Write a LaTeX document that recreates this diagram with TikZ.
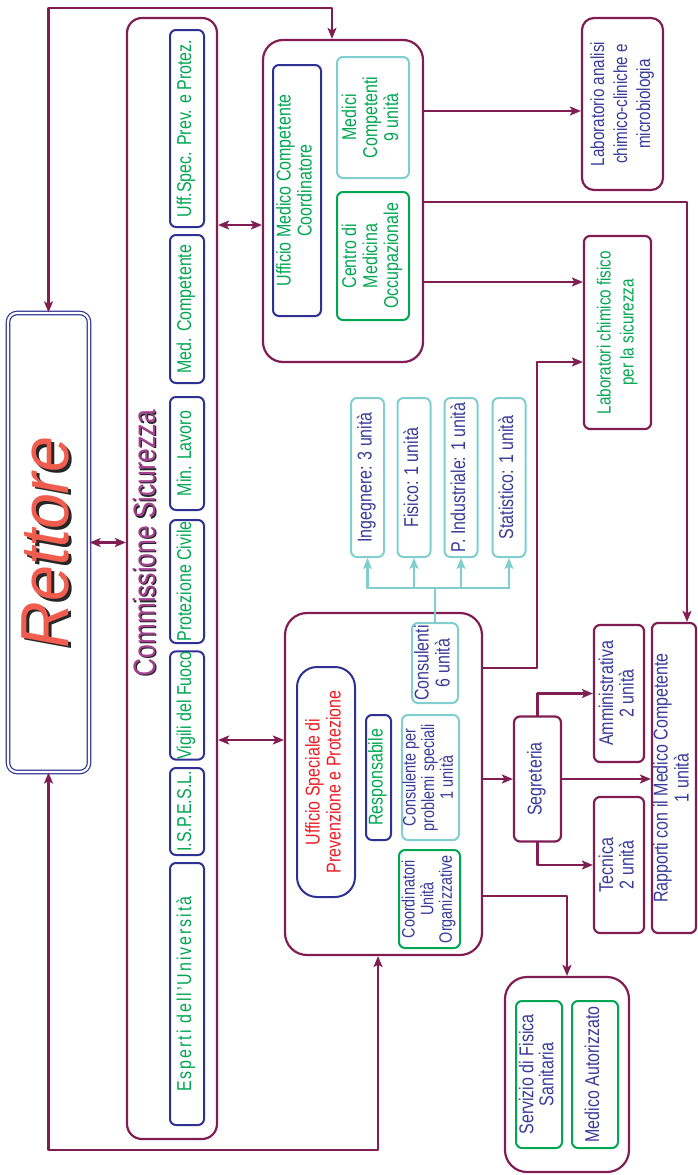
\documentclass[tikz,border=0pt]{standalone}
\usepackage{fontspec}
\setmainfont{Liberation Sans}[FakeStretch=0.8]
\newfontfamily\rettorefont{Liberation Sans}[FakeStretch=0.95]
\usepackage{graphicx}
\usetikzlibrary{arrows.meta}

\definecolor{linec}{RGB}{128,30,84}
\definecolor{blueb}{RGB}{46,49,146}
\definecolor{greent}{RGB}{0,166,81}
\definecolor{cyanb}{RGB}{128,206,206}
\definecolor{bluet}{RGB}{58,58,152}
\definecolor{redt}{RGB}{237,28,36}
\definecolor{rettc}{RGB}{240,92,78}
\definecolor{commc}{RGB}{165,65,145}

\newcommand{\vtext}[1]{\rotatebox{90}{\begin{tabular}{@{}c@{}}#1\end{tabular}}}
\newcommand{\shadowed}[3]{\rlap{\kern-#3\raisebox{-#3}{\color{black!85}#2}}{\color{#1}#2}}

\begin{document}
\begin{tikzpicture}[x=1pt,y=-1pt,line cap=round,line join=round,
  >={Stealth[length=11pt,width=9pt,inset=2.5pt]},
  every node/.style={inner sep=0pt,font=\fontsize{20}{21}\selectfont},
  wh/.style 2 args={minimum width=#1pt,minimum height=#2pt},
  bigbox/.style={draw=linec,line width=2.2pt,rounded corners=18pt},
  purbox/.style={draw=linec,line width=2.2pt,rounded corners=6pt,text=bluet},
  blubox/.style={draw=blueb,line width=2pt,rounded corners=6pt},
  grnbox/.style={draw=greent,line width=2pt,rounded corners=6pt},
  cyabox/.style={draw=cyanb,line width=2pt,rounded corners=6pt},
  conn/.style={draw=linec,line width=2.2pt},
  cyconn/.style={draw=cyanb,line width=2.2pt}]
  \useasboundingbox (0,0) rectangle (697,1175);

  % Rettore
  \node[draw=blueb,line width=1.2pt,double=white,double distance=2.2pt,rounded corners=9pt,wh={81}{459}] (rettore) at (48.5,542.5)
    {\vtext{\rettorefont\itshape\fontsize{68}{70}\selectfont\shadowed{rettc}{Rettore}{2.5pt}}};

  % Commissione Sicurezza
  \node[bigbox,rounded corners=15pt,wh={90}{1121}] (comm) at (172,578.5) {};
  \node (commtitle) at (147,543) {\vtext{\fontsize{31}{33}\selectfont\shadowed{commc}{Commissione Sicurezza}{1.3pt}}};
  \node[blubox,text=greent,wh={34}{197}] (uffspec) at (187,128.5) {\vtext{Uff.Spec. Prev. e Protez.}};
  \node[blubox,text=greent,wh={34}{148}] (medcomp) at (187,309) {\vtext{Med. Competente}};
  \node[blubox,text=greent,wh={34}{113}] (minlav) at (187,453.5) {\vtext{Min. Lavoro}};
  \node[blubox,text=greent,wh={34}{123}] (protciv) at (187,581.5) {\vtext{Protezione Civile}};
  \node[blubox,text=greent,wh={34}{105}] (vigili) at (187,705.5) {\vtext{Vigili del Fuoco}};
  \node[blubox,text=greent,wh={34}{87}] (ispesl) at (187,811.5) {\vtext{I.S.P.E.S.L.}};
  \node[blubox,text=greent,wh={34}{262}] (esperti) at (187,994) {\vtext{\addfontfeature{LetterSpace=10}Esperti dell'Università}};

  % Ufficio Medico Competente
  \node[bigbox,rounded corners=20pt,wh={160}{322}] (umc) at (343,201) {};
  \node[blubox,text=greent,wh={48}{251}] (umcc) at (297,190.5) {\vtext{Ufficio Medico Competente\\Coordinatore}};
  \node[cyabox,text=greent,wh={72}{121}] (medici) at (373,117.5) {\vtext{Medici\\Competenti\\9 unità}};
  \node[grnbox,text=greent,wh={72}{128}] (centro) at (373,256) {\vtext{Centro di\\Medicina\\Occupazionale}};

  % laboratori
  \node[purbox,rounded corners=12pt,wh={81}{172},font=\fontsize{19}{23}\selectfont] (labclin) at (622.5,104)
    {\vtext{Laboratorio analisi\\chimico-cliniche e\\microbiologia}};
  \node[purbox,text=greent,wh={67}{193},font=\fontsize{19}{23}\selectfont] (labchim) at (617.5,332.5)
    {\vtext{Laboratori chimico fisico\\per la sicurezza}};

  % consulenti
  \node[cyabox,text=bluet,wh={33}{159}] (ing) at (367.5,477.5) {\vtext{Ingegnere: 3 unità}};
  \node[cyabox,text=bluet,wh={33}{159}] (fis) at (414,477.5) {\vtext{Fisico: 1 unità}};
  \node[cyabox,text=bluet,wh={33}{159}] (pind) at (461,477.5) {\vtext{P. Industriale: 1 unità}};
  \node[cyabox,text=bluet,wh={33}{159}] (stat) at (509,477.5) {\vtext{Statistico: 1 unità}};

  % Ufficio Speciale di Prevenzione e Protezione
  \node[bigbox,rounded corners=22pt,wh={197}{342}] (uspp) at (383.5,784) {};
  \node[blubox,rounded corners=20pt,text=redt,wh={58}{230}] (usppt) at (326,782) {\vtext{Ufficio Speciale di\\Prevenzione e Protezione}};
  \node[blubox,text=greent,wh={25}{125}] (resp) at (378.5,777.5) {\vtext{Responsabile}};
  \node[cyabox,text=bluet,wh={46}{80}] (cons) at (435,663) {\vtext{Consulenti\\6 unità}};
  \node[cyabox,text=bluet,wh={57}{125},font=\fontsize{18}{18.5}\selectfont] (consps) at (430.5,777.5)
    {\vtext{Consulente per\\problemi speciali\\1 unità}};
  \node[grnbox,text=bluet,wh={61}{98},font=\fontsize{18}{18.5}\selectfont] (coord) at (429.5,899)
    {\vtext{Coordinatori\\Unità\\Organizzative}};

  % segreteria
  \node[purbox,wh={47}{125}] (segr) at (537.5,779) {\vtext{Segreteria}};
  \node[purbox,wh={50}{137},font=\fontsize{20}{19}\selectfont] (ammin) at (619,693.5) {\vtext{Amministrativa\\2 unità}};
  \node[purbox,wh={50}{136},font=\fontsize{20}{19}\selectfont] (tecn) at (619,865) {\vtext{Tecnica\\2 unità}};
  \node[purbox,wh={44}{310}] (rapp) at (674,778) {\vtext{Rapporti con il Medico Competente\\1 unità}};

  % Servizio di Fisica Sanitaria
  \node[bigbox,rounded corners=22pt,wh={124}{195}] (serv) at (567,1074.5) {};
  \node[grnbox,text=bluet,wh={46}{147},font=\fontsize{20}{19}\selectfont] (fisan) at (539,1074.5) {\vtext{Servizio di Fisica\\Sanitaria}};
  \node[grnbox,text=bluet,wh={46}{147}] (medaut) at (595,1074.5) {\vtext{Medico Autorizzato}};

  % collegamenti
  \draw[conn,<->] (rettore.east) -- (rettore.east -| comm.west);
  \draw[conn,<->] (rettore.north) -- (rettore.north |- 0,8) -| (332,0 |- umc.north);
  \draw[conn,<->] (rettore.south) -- (rettore.south |- 0,1150) -| (378,0 |- uspp.south);
  \draw[conn,<->] (comm.east |- 0,225) -- (umc.west |- 0,225);
  \draw[conn,<->] (comm.east |- 0,740) -- (uspp.west |- 0,740);
  \draw[conn,->] (umc.east |- 0,111) -- (labclin.west |- 0,111);
  \draw[conn,->] (umc.east |- 0,202) -| (687,0 |- rapp.north);
  \draw[conn,->] (umc.east |- 0,282) -- (labchim.west |- 0,282);
  \draw[conn,->] (uspp.east |- 0,668) -- (537,668) |- (labchim.west |- 0,362);
  \draw[conn,->] (uspp.east |- segr.west) -- (segr.west);
  \draw[conn,->] (segr.east) -- (segr.east -| rapp.west);
  \draw[conn,->] (segr.north) |- (ammin.west);
  \draw[conn,->] (segr.south) |- (tecn.west);
  \draw[conn,->] (uspp.east |- 0,896) -| (serv.north);

  \draw[cyconn] (cons.north) -- (cons.north |- 0,588);
  \draw[cyconn] (ing.south |- 0,588) -- (stat.south |- 0,588);
  \foreach \n in {ing,fis,pind,stat}
    \draw[cyconn,->] (\n.south |- 0,588) -- (\n.south);
\end{tikzpicture}
\end{document}
